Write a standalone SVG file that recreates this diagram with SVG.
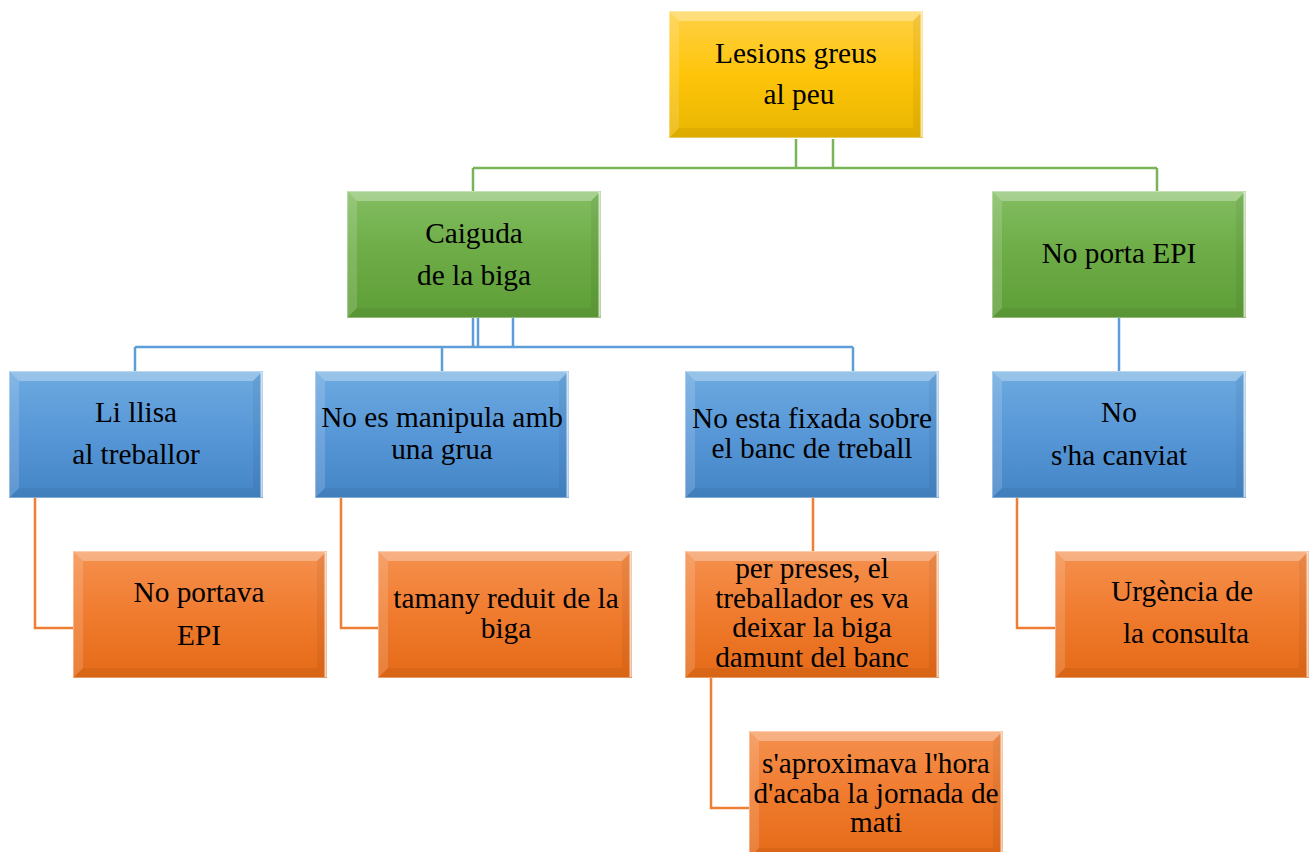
<svg xmlns="http://www.w3.org/2000/svg" width="1309" height="852" viewBox="0 0 1309 852">
<style>
.t text{font-size:29.3px;fill:#000;text-anchor:middle}
.cg{fill:none;stroke:#7AB45A;stroke-width:2.5}
.cb{fill:none;stroke:#5E9ED8;stroke-width:2.5}
.co{fill:none;stroke:#EE7E34;stroke-width:2.5}
</style>
<defs>
<linearGradient id="gy" x1="0" y1="0" x2="0" y2="1"><stop offset="0" stop-color="#FFD046"/><stop offset="0.5" stop-color="#FEC50A"/><stop offset="1" stop-color="#E8B500"/></linearGradient>
<linearGradient id="gg" x1="0" y1="0" x2="0" y2="1"><stop offset="0" stop-color="#83BE62"/><stop offset="0.5" stop-color="#6CAB45"/><stop offset="1" stop-color="#5E9E37"/></linearGradient>
<linearGradient id="gb" x1="0" y1="0" x2="0" y2="1"><stop offset="0" stop-color="#6DAAE0"/><stop offset="0.5" stop-color="#5797D7"/><stop offset="1" stop-color="#4485C6"/></linearGradient>
<linearGradient id="go" x1="0" y1="0" x2="0" y2="1"><stop offset="0" stop-color="#F5914F"/><stop offset="0.5" stop-color="#F07B2E"/><stop offset="1" stop-color="#E46A17"/></linearGradient>
<g id="bevel">
<polygon points="0,0 254,0 244,10 10,10" fill="#fff" fill-opacity="0.3"/>
<polygon points="0,0 10,10 10,117 0,127" fill="#fff" fill-opacity="0.15"/>
<polygon points="254,0 254,127 244,117 244,10" fill="#000" fill-opacity="0.05"/>
<polygon points="0,127 254,127 244,117 10,117" fill="#000" fill-opacity="0.05"/>
<line x1="252.5" y1="1" x2="252.5" y2="126" stroke="#fff" stroke-opacity="0.7" stroke-width="2"/>
<rect x="0.5" y="0.5" width="253" height="126" fill="none" stroke="#fff" stroke-opacity="0.35" stroke-width="1"/>
</g>
</defs>
<g id="connectors">
<path class="cg" d="M796,139 V168 M833,139 V168 M473,168 H1157 M473,168 V191 M1157,168 V191"/>
<path class="cb" d="M473,318 V347 M478,318 V347 M513,318 V347 M135,347 H853 M135,347 V371 M442,347 V371 M853,347 V371 M1119,318 V371"/>
<path class="co" d="M35,498 V628 H73 M341,498 V628 H378 M813,498 V551 M711,678 V808 H749 M1017,498 V628 H1055"/>
</g>
<g class="t" font-family="'Liberation Serif', 'DejaVu Serif', serif">
<g id="n-lesions"><rect x="669" y="11" width="254" height="127" fill="url(#gy)"/><use href="#bevel" x="669" y="11"/><text x="796" y="63">Lesions greus</text><text x="799" y="104">al peu</text></g>
<g id="n-caiguda"><rect x="347" y="191" width="254" height="127" fill="url(#gg)"/><use href="#bevel" x="347" y="191"/><text x="474" y="243">Caiguda</text><text x="474" y="285">de la biga</text></g>
<g id="n-noporta"><rect x="992" y="191" width="254" height="127" fill="url(#gg)"/><use href="#bevel" x="992" y="191"/><text x="1119" y="263">No porta EPI</text></g>
<g id="n-lillisa"><rect x="9" y="371" width="254" height="127" fill="url(#gb)"/><use href="#bevel" x="9" y="371"/><text x="136" y="422">Li llisa</text><text x="136" y="464">al treballor</text></g>
<g id="n-manipula"><rect x="315" y="371" width="254" height="127" fill="url(#gb)"/><use href="#bevel" x="315" y="371"/><text x="442" y="427">No es manipula amb</text><text x="442" y="459">una grua</text></g>
<g id="n-fixada"><rect x="685" y="371" width="254" height="127" fill="url(#gb)"/><use href="#bevel" x="685" y="371"/><text x="812" y="428">No esta fixada sobre</text><text x="812" y="458">el banc de treball</text></g>
<g id="n-canviat"><rect x="992" y="371" width="254" height="127" fill="url(#gb)"/><use href="#bevel" x="992" y="371"/><text x="1119" y="422">No</text><text x="1119" y="465">s'ha canviat</text></g>
<g id="n-portava"><rect x="73" y="551" width="254" height="127" fill="url(#go)"/><use href="#bevel" x="73" y="551"/><text x="199" y="602">No portava</text><text x="199" y="645">EPI</text></g>
<g id="n-tamany"><rect x="378" y="551" width="254" height="127" fill="url(#go)"/><use href="#bevel" x="378" y="551"/><text x="506" y="608">tamany reduit de la</text><text x="506" y="638">biga</text></g>
<g id="n-preses"><rect x="685" y="551" width="254" height="127" fill="url(#go)"/><use href="#bevel" x="685" y="551"/><text x="812" y="578">per preses, el</text><text x="812" y="608">treballador es va</text><text x="812" y="637">deixar la biga</text><text x="812" y="667">damunt del banc</text></g>
<g id="n-urgencia"><rect x="1055" y="551" width="254" height="127" fill="url(#go)"/><use href="#bevel" x="1055" y="551"/><text x="1182" y="601">Urgència de</text><text x="1186" y="643">la consulta</text></g>
<g id="n-aproximava"><rect x="749" y="731" width="254" height="127" fill="url(#go)"/><use href="#bevel" x="749" y="731"/><text x="876" y="773">s'aproximava l'hora</text><text x="876" y="803">d'acaba la jornada de</text><text x="876" y="832">mati</text></g>
</g>
</svg>
